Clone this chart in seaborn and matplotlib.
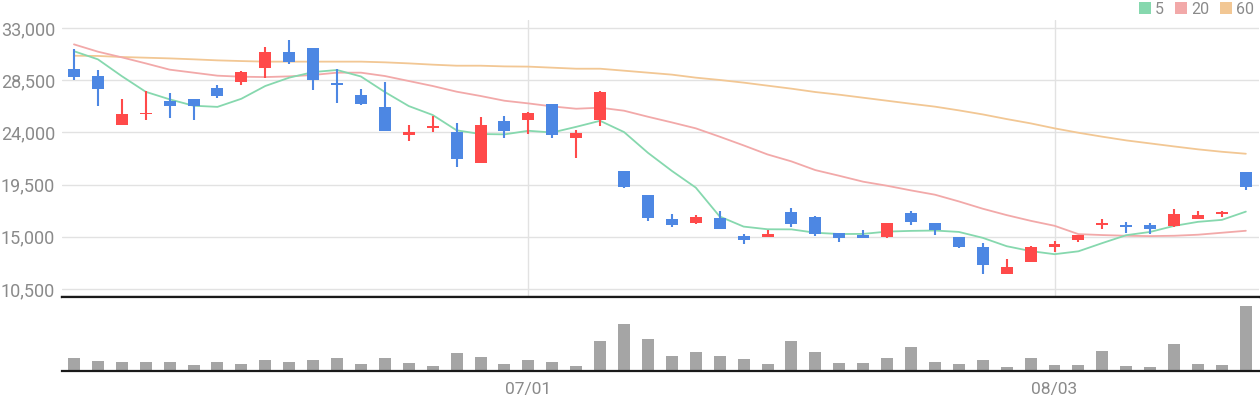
import numpy as np
import pandas as pd
import matplotlib
matplotlib.use("Agg")
import matplotlib.pyplot as plt
from matplotlib.patches import Patch
import seaborn as sns

# ---------------- data ----------------
open_ = [29450, 28850, 24650, 25550, 26700, 26850, 27800, 28350, 29550, 30950,
         31300, 28250, 27200, 26200, 23800, 24400, 24050, 21350, 25000, 25050,
         26450, 23500, 25050, 20650, 18600, 16550, 16200, 16600, 15050, 14950,
         17150, 16700, 15300, 15150, 14950, 17050, 16200, 14950, 14100, 11800,
         12800, 14100, 14700, 16000, 16000, 16000, 15950, 16550, 16950, 20600]
high = [31200, 29400, 26900, 27550, 27400, 26850, 28100, 29300, 31350, 31950,
        31300, 29450, 27750, 28350, 24650, 25400, 24800, 25300, 25400, 25750,
        26450, 24200, 27550, 20650, 18600, 16950, 16850, 17250, 15250, 15600,
        17500, 16800, 15300, 15600, 16200, 17250, 16200, 14950, 14450, 13100,
        14200, 14650, 15150, 16550, 16250, 16200, 17400, 17250, 17250, 20600]
low = [28500, 26250, 24650, 25100, 25250, 25050, 26950, 28100, 28700, 29900,
       27650, 26550, 26350, 24100, 23250, 24050, 21000, 21350, 23500, 23850,
       23500, 21800, 24550, 19200, 16350, 15850, 16100, 15650, 14350, 14950,
       15850, 15050, 14550, 14900, 14900, 16000, 15150, 14000, 11800, 11800,
       12800, 13700, 14550, 15700, 15300, 15250, 15850, 16550, 16700, 19050]
close = [28750, 27750, 25600, 25650, 26250, 26250, 27150, 29200, 30950, 30050,
         28500, 28100, 26450, 24100, 24050, 24550, 21700, 24650, 24100, 25650,
         23800, 23950, 27500, 19300, 16600, 16000, 16700, 15650, 14700, 15250,
         16100, 15250, 14900, 14900, 16200, 16250, 15600, 14100, 12550, 12400,
         14100, 14350, 15150, 16200, 15850, 15700, 16950, 16850, 17100, 19300]

ma5 = [31000, 30300, 28850, 27500, 26850, 26300, 26200, 26900, 28000, 28720,
       29200, 29380, 28820, 27480, 26270, 25500, 24180, 23860, 23830, 24140,
       23990, 24480, 25000, 24030, 22240, 20680, 19240, 16750, 15880, 15650,
       15640, 15350, 15240, 15250, 15450, 15510, 15540, 15420, 14910, 14190,
       13770, 13500, 13750, 14460, 15140, 15420, 15940, 16290, 16460, 17170]
ma20 = [31590, 30960, 30470, 29950, 29410, 29150, 28890, 28800, 28770, 28830,
        28950, 29150, 29150, 28860, 28430, 28000, 27510, 27140, 26730, 26500,
        26240, 26040, 26130, 25870, 25350, 24860, 24350, 23630, 22880, 22100,
        21500, 20750, 20260, 19750, 19400, 19000, 18630, 18050, 17420, 16870,
        16380, 15950, 15230, 15150, 15090, 15060, 15090, 15180, 15350, 15520]
ma60 = [30610, 30590, 30500, 30440, 30380, 30300, 30210, 30150, 30100, 30100,
        30100, 30100, 30100, 30040, 29950, 29840, 29750, 29750, 29690, 29670,
        29580, 29490, 29490, 29320, 29150, 28980, 28720, 28520, 28290, 28030,
        27770, 27480, 27250, 26990, 26730, 26470, 26220, 25900, 25550, 25150,
        24780, 24350, 23970, 23630, 23310, 23050, 22790, 22540, 22330, 22160]

volume = [40, 31, 28, 28, 28, 19, 28, 22, 34, 28, 34, 40, 22, 40, 25, 16, 55, 43,
          22, 34, 28, 16, 91, 142, 97, 46, 58, 46, 37, 22, 91, 58, 25, 25, 40,
          73, 28, 22, 34, 13, 40, 19, 19, 61, 16, 13, 82, 22, 19, 196]
volume = [v * 1000 for v in volume]

y_ticks = [10500, 15000, 19500, 24000, 28500, 33000]
x_tick_pos = [19, 41]
x_tick_labels = ["07/01", "08/03"]
ma_labels = ["5", "20", "60"]

# ---------------- style ----------------
RED = "#ff4a4a"
BLUE = "#4d87e3"
C5 = "#86d8ae"
C20 = "#f2a9a9"
C60 = "#f2c794"
GRID = "#e2e2e2"
TXT = "#8a8a8a"
VOL = "#a5a5a5"

sns.set_theme(style="white")
plt.rcParams["font.family"] = ["Roboto", "DejaVu Sans"]

n = len(close)
idx = np.arange(n)
df = pd.DataFrame({"i": idx, "open": open_, "high": high, "low": low,
                   "close": close, "ma5": ma5, "ma20": ma20, "ma60": ma60,
                   "volume": volume})

fig = plt.figure(figsize=(12.6, 4.0), dpi=100)
W, H = 1260.0, 400.0
left = 62 / W
right = 1259 / W
ax = fig.add_axes([left, 1 - 296.7 / H, right - left, (296.7 - 20) / H])
axv = fig.add_axes([left, 1 - 371.3 / H, right - left, (371.3 - 296.7) / H])

# price panel
px_per_val = 261.0 / 22500.0
top_val = 33000 + 8 / px_per_val
bot_val = 33000 - (296.7 - 28) / px_per_val

for name, col in [("ma60", C60), ("ma20", C20), ("ma5", C5)]:
    sns.lineplot(data=df, x="i", y=name, ax=ax, color=col, lw=1.3, zorder=2,
                 legend=False)

up = df["close"] >= df["open"]
colors = np.where(up, RED, BLUE)
body_bottom = np.minimum(df["open"], df["close"])
body_h = np.maximum(np.abs(df["close"] - df["open"]), 160)
ax.vlines(df["i"], df["low"], df["high"], colors=colors, lw=1.5, zorder=3)
ax.bar(df["i"], body_h, bottom=body_bottom, width=0.5, color=colors,
       zorder=4, linewidth=0)

ax.set_xlim(-0.5, n - 0.45)
ax.set_ylim(bot_val, top_val)
ax.set_yticks(y_ticks)
ax.set_yticklabels([f"{v:,}" for v in y_ticks])
ax.set_xticks(x_tick_pos)
ax.set_xticklabels([])
ax.grid(True, axis="both", color=GRID, lw=1.0, zorder=0)
ax.set_axisbelow(True)
ax.tick_params(axis="y", length=0, pad=5, labelsize=13, labelcolor=TXT)
ax.tick_params(axis="x", length=0)
ax.set_xlabel("")
ax.set_ylabel("")
for s in ["left", "right", "top"]:
    ax.spines[s].set_visible(False)
ax.spines["bottom"].set_color("#1a1a1a")
ax.spines["bottom"].set_linewidth(1.6)

# volume panel
sns.barplot(data=df, x="i", y="volume", ax=axv, native_scale=True,
            color=VOL, width=0.5, errorbar=None, saturation=1, linewidth=0)
axv.set_xlim(-0.5, n - 0.45)
axv.set_ylim(0, max(volume) * 224 / 196)
axv.set_yticks([])
axv.set_xticks(x_tick_pos)
axv.set_xticklabels(x_tick_labels)
axv.tick_params(axis="x", length=4.5, width=1.4, color="#1a1a1a",
                labelsize=12.5, labelcolor=TXT, pad=3)
axv.set_xlabel("")
axv.set_ylabel("")
axv.grid(False)
for s in ["left", "right"]:
    axv.spines[s].set_visible(False)
for s in ["top", "bottom"]:
    axv.spines[s].set_color("#1a1a1a")
    axv.spines[s].set_linewidth(1.6)

# legend
handles = [Patch(facecolor=c, edgecolor="none") for c in (C5, C20, C60)]
fig.legend(handles, ma_labels, loc="upper right", bbox_to_anchor=(1.003, 1.02),
           ncol=3, frameon=False, handlelength=0.75, handleheight=0.75,
           handletextpad=0.25, columnspacing=0.7, fontsize=11.5,
           labelcolor=TXT, borderaxespad=0.2)

fig.savefig("out.png", dpi=100)
